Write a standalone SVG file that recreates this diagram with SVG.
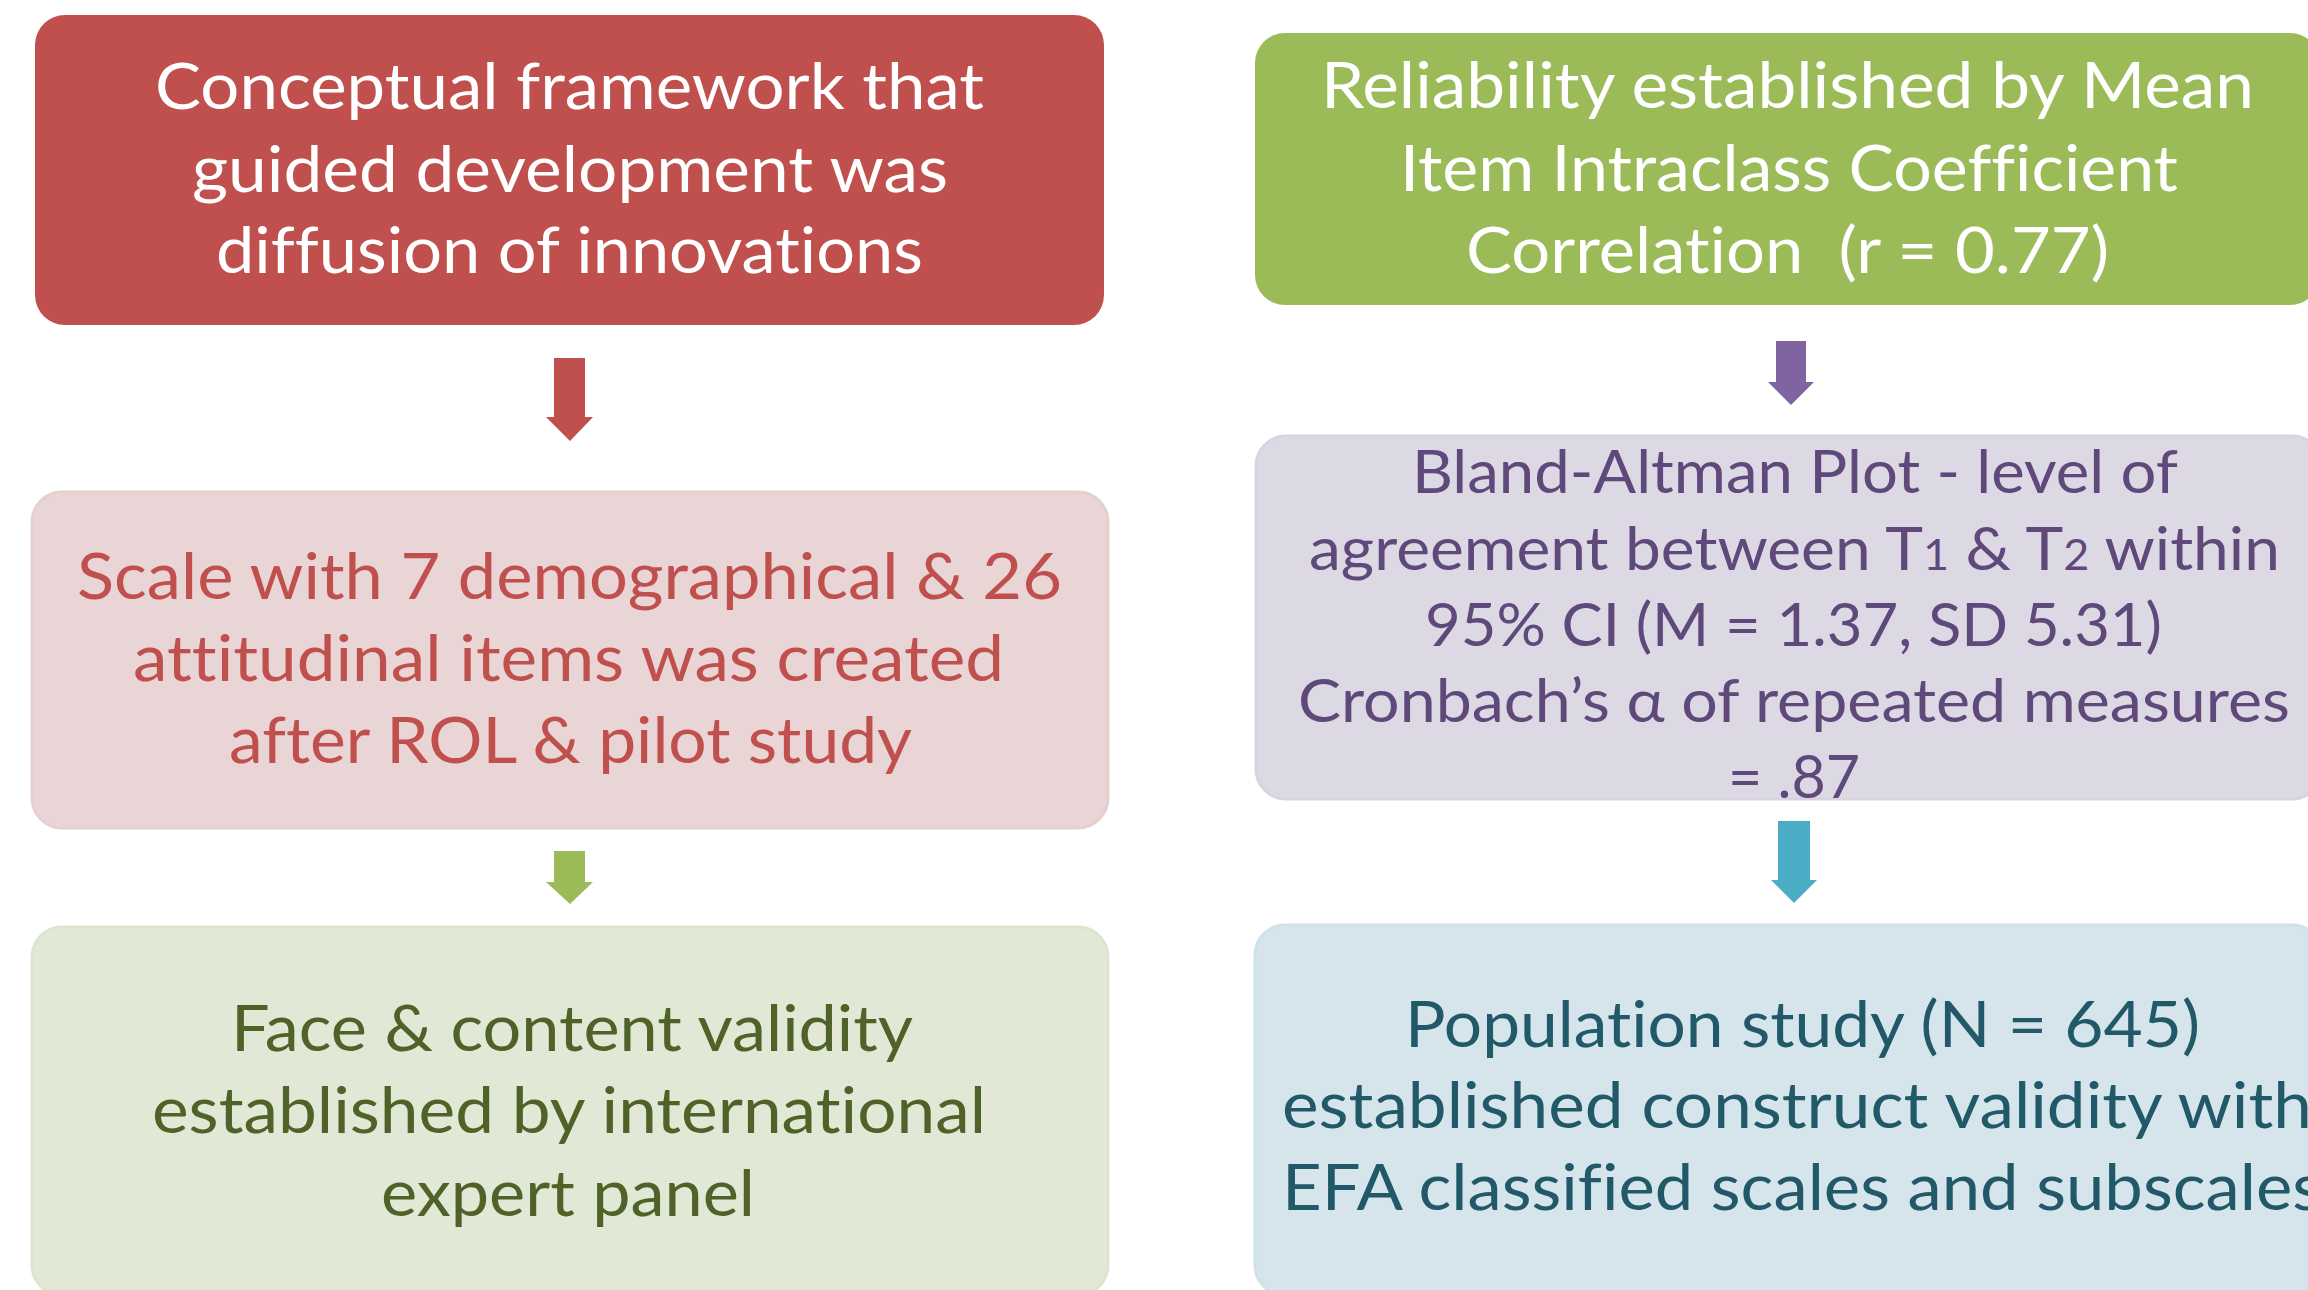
<svg xmlns="http://www.w3.org/2000/svg" width="2308" height="1290" viewBox="0 0 2308 1290">
  <style>
    .lbl { font-family: Lato, "Open Sans", "Liberation Sans", sans-serif; font-size: 64px; font-variant-ligatures: none; font-feature-settings: "liga" 0, "clig" 0; }
    .small { font-size: 60px; }
    .white { fill: #FFFFFF; }
    .red { fill: #C0504D; }
    .olive { fill: #4F6228; }
    .purple { fill: #5F497A; }
    .teal { fill: #215968; }
    .pre { white-space: pre; }
  </style>
  <rect width="2308" height="1290" fill="#FFFFFF"/>

  <!-- connectors: block arrows between steps -->
  <g id="connectors">
    <polygon fill="#C0504D" points="554,358 585,358 585,417 593,417 570,441 546,417 554,417"/>
    <polygon fill="#9BBB59" points="554,851 585,851 585,882 593,882 570,904 546,882 554,882"/>
    <polygon fill="#8064A2" points="1776,341 1806,341 1806,382 1814,382 1791,405 1768,382 1776,382"/>
    <polygon fill="#4BACC6" points="1778,821 1810,821 1810,880 1817,880 1794,903 1771,880 1778,880"/>
  </g>

  <!-- left column -->
  <g id="framework">
    <rect x="35" y="15" width="1069" height="310" rx="30" fill="#C0504D"/>
    <text class="lbl white" x="155" y="109" textLength="829" lengthAdjust="spacingAndGlyphs">Conceptual framework that</text>
    <text class="lbl white" x="192" y="192" textLength="756" lengthAdjust="spacingAndGlyphs">guided development was</text>
    <text class="lbl white" x="216" y="273" textLength="707" lengthAdjust="spacingAndGlyphs">diffusion of innovations</text>
  </g>

  <g id="scale">
    <rect x="32" y="492" width="1076" height="336" rx="30" fill="#E9D5D5" stroke="#E6CFCF" stroke-width="3"/>
    <text class="lbl red" x="77" y="599" textLength="985" lengthAdjust="spacingAndGlyphs">Scale with 7 demographical &amp; 26</text>
    <text class="lbl red" x="133" y="681" textLength="871" lengthAdjust="spacingAndGlyphs">attitudinal items was created</text>
    <text class="lbl red" x="229" y="763" textLength="683" lengthAdjust="spacingAndGlyphs">after ROL &amp; pilot study</text>
  </g>

  <g id="validity">
    <rect x="32" y="927" width="1076" height="368" rx="30" fill="#E1E8D5" stroke="#DDE5CF" stroke-width="3"/>
    <text class="lbl olive" x="231" y="1051" textLength="682" lengthAdjust="spacingAndGlyphs">Face &amp; content validity</text>
    <text class="lbl olive" x="152" y="1133" textLength="834" lengthAdjust="spacingAndGlyphs">established by international</text>
    <text class="lbl olive" x="381" y="1216" textLength="374" lengthAdjust="spacingAndGlyphs">expert panel</text>
  </g>

  <!-- right column -->
  <g id="reliability">
    <rect x="1255" y="33" width="1065" height="272" rx="30" fill="#9BBB59"/>
    <text class="lbl white" x="1321" y="108" textLength="933" lengthAdjust="spacingAndGlyphs">Reliability established by Mean</text>
    <text class="lbl white" x="1400" y="191" textLength="778" lengthAdjust="spacingAndGlyphs">Item Intraclass Coefficient</text>
    <text class="lbl white pre" x="1466" y="273" textLength="643" lengthAdjust="spacingAndGlyphs">Correlation  (r = 0.77)</text>
  </g>

  <g id="bland-altman">
    <rect x="1256" y="436" width="1066" height="363" rx="30" fill="#DCD8E4" stroke="#D8D3E1" stroke-width="3"/>
    <text class="lbl small purple" x="1412" y="493" textLength="766" lengthAdjust="spacingAndGlyphs">Bland-Altman Plot - level of</text>
    <text class="lbl small purple" x="1309" y="570" textLength="971" lengthAdjust="spacingAndGlyphs">agreement between T<tspan font-size="42">1</tspan> &amp; T<tspan font-size="42">2</tspan> within</text>
    <text class="lbl small purple" x="1425" y="646" textLength="737" lengthAdjust="spacingAndGlyphs">95% CI (M = 1.37, SD 5.31)</text>
    <text class="lbl small purple" x="1298" y="722" textLength="992" lengthAdjust="spacingAndGlyphs">Cronbach’s α of repeated measures</text>
    <text class="lbl small purple" x="1728" y="798" textLength="132" lengthAdjust="spacingAndGlyphs">= .87</text>
  </g>

  <g id="population">
    <rect x="1255" y="925" width="1067" height="370" rx="30" fill="#D5E5EB" stroke="#D0E1E8" stroke-width="3"/>
    <text class="lbl teal" x="1405" y="1047" textLength="795" lengthAdjust="spacingAndGlyphs">Population study (N = 645)</text>
    <text class="lbl teal" x="1282" y="1128" textLength="1030" lengthAdjust="spacingAndGlyphs">established construct validity with</text>
    <text class="lbl teal" x="1282" y="1210" textLength="1040" lengthAdjust="spacingAndGlyphs">EFA classified scales and subscales</text>
  </g>
</svg>
